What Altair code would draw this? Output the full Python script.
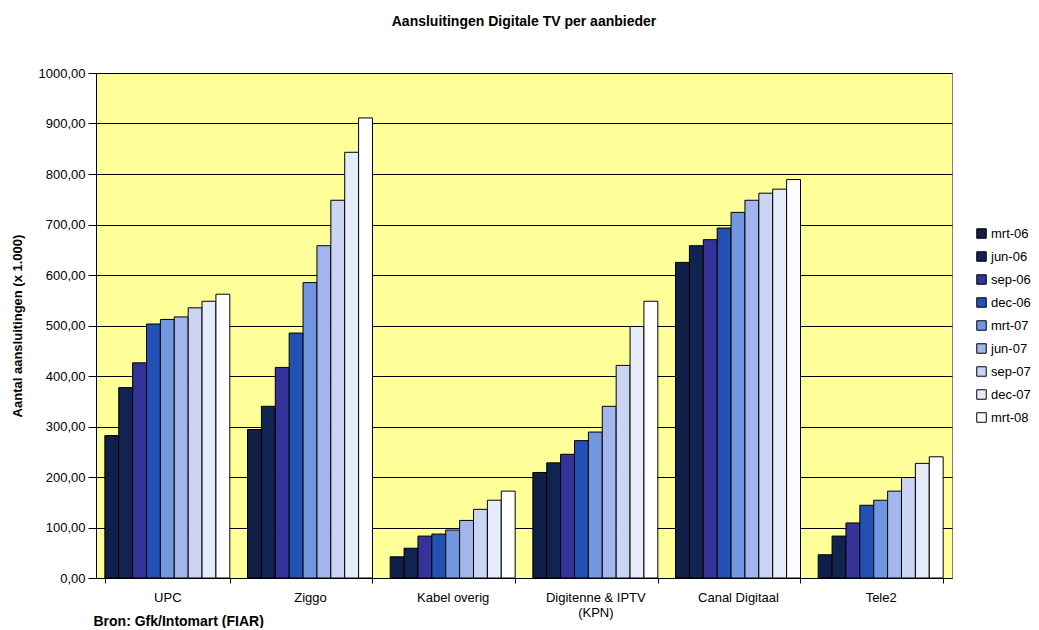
import altair as alt
import pandas as pd

providers = ["UPC", "Ziggo", "Kabel overig", "Digitenne & IPTV (KPN)", "Canal Digitaal", "Tele2"]
periods = ["mrt-06", "jun-06", "sep-06", "dec-06", "mrt-07", "jun-07", "sep-07", "dec-07", "mrt-08"]

upc = [282, 377, 426, 503, 512, 517, 535, 548, 562]
ziggo = [294, 340, 417, 485, 585, 658, 748, 843, 911]
kabel_overig = [42, 59, 83, 87, 95, 114, 136, 154, 172]
digitenne = [209, 228, 245, 272, 289, 340, 421, 498, 548]
canal_digitaal = [625, 658, 670, 693, 724, 748, 762, 770, 789]
tele2 = [46, 83, 109, 144, 154, 172, 199, 227, 240]

colors = ["#0F1F4A", "#112350", "#333399", "#2251B3", "#7396E0",
          "#A2B5EC", "#C9D5F2", "#E5EBF9", "#FFFFFF"]

series = [upc, ziggo, kabel_overig, digitenne, canal_digitaal, tele2]
rows = []
for prov, vals in zip(providers, series):
    for per, v in zip(periods, vals):
        rows.append({"provider": prov, "period": per, "value": v})
df = pd.DataFrame(rows)

FONT = "Liberation Sans"

chart = alt.Chart(df).mark_bar(stroke="black", strokeWidth=1).encode(
    x=alt.X(
        "provider:N",
        sort=providers,
        scale=alt.Scale(paddingInner=0.124, paddingOuter=0.062),
        axis=alt.Axis(
            title="Bron: Gfk/Intomart (FIAR)",
            titleFontSize=14, titleFontWeight="bold", titleFont=FONT,
            titleX=-3, titleY=47, titleAlign="left", titleBaseline="alphabetic",
            titleColor="black",
            tickBand="extent", labelAngle=0, labelFontSize=13, labelFont=FONT,
            labelColor="black", tickColor="black", domainColor="black",
            tickSize=5, labelPadding=8, labelLineHeight=15,
            labelExpr="datum.label == 'Digitenne & IPTV (KPN)' ? ['Digitenne & IPTV', '(KPN)'] : datum.label",
        ),
    ),
    xOffset=alt.XOffset("period:N", sort=periods,
                        scale=alt.Scale(paddingInner=0, paddingOuter=0)),
    y=alt.Y(
        "value:Q",
        scale=alt.Scale(domain=[0, 1000], nice=False),
        axis=alt.Axis(
            title="Aantal aansluitingen (x 1.000)",
            titleFontSize=13, titleFontWeight="bold", titleFont=FONT,
            titleColor="black", titleX=-79, titleY=252.5,
            titleBaseline="middle", titleAlign="center", titleAngle=270,
            values=list(range(0, 1001, 100)),
            labelExpr="replace(format(datum.value, '.2f'), '.', ',')",
            labelFontSize=13, labelFont=FONT, labelColor="black",
            tickColor="black", domainColor="black", tickSize=8, labelPadding=3,
            grid=True, gridColor="black", gridWidth=1, gridOpacity=1,
        ),
    ),
    color=alt.Color(
        "period:N",
        sort=periods,
        scale=alt.Scale(domain=periods, range=colors),
        legend=alt.Legend(
            title=None, orient="none", legendX=879, legendY=154,
            symbolType="square", symbolSize=90, symbolStrokeColor="black",
            symbolStrokeWidth=1, symbolOpacity=1,
            labelFontSize=13, labelFont=FONT, labelColor="black",
            rowPadding=8, labelOffset=3,
        ),
    ),
).properties(
    width=856,
    height=505,
    title=alt.TitleParams(
        "Aansluitingen Digitale TV per aanbieder",
        fontSize=14, font=FONT, fontWeight="bold", color="black",
        anchor="middle", offset=38,
    ),
    autosize=alt.AutoSizeParams(type="none"),
    padding={"left": 88, "top": 65, "right": 79, "bottom": 50},
).configure_view(
    fill="#FFFF99", stroke="#808080", strokeWidth=1
)

chart.save("out.html", embed_options={"renderer": "svg", "actions": False})
